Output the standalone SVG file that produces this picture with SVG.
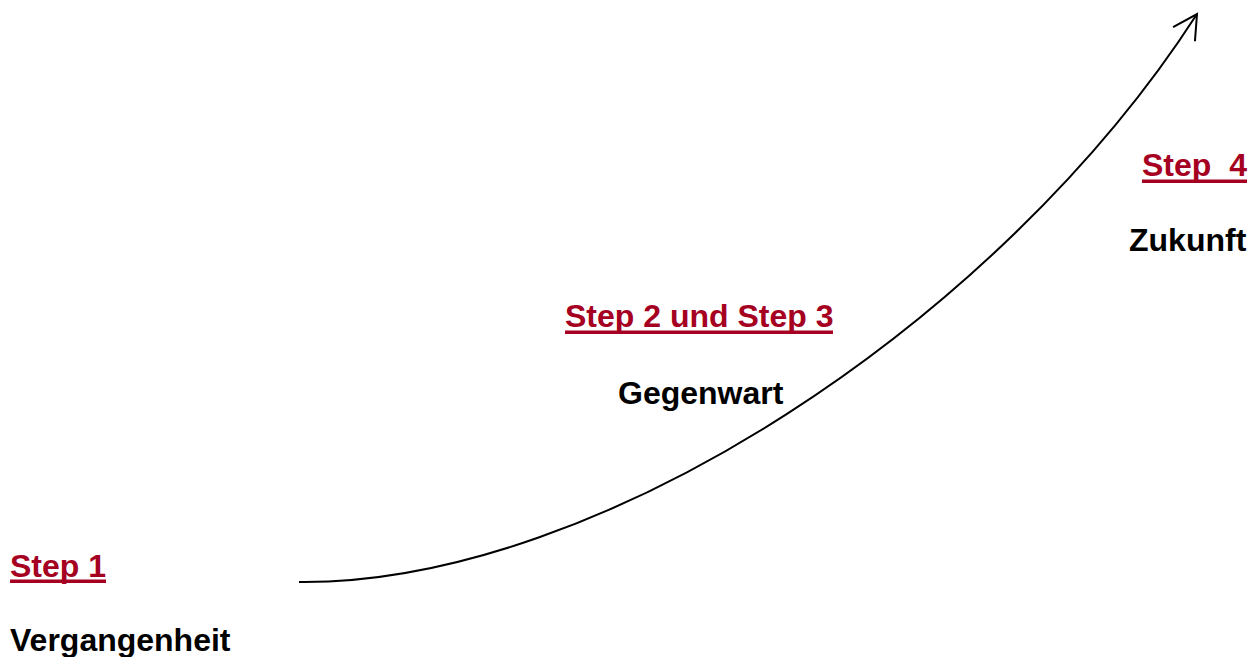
<svg xmlns="http://www.w3.org/2000/svg" width="1253" height="657" viewBox="0 0 1253 657">
  <style>
    text { font-family: "Liberation Sans", Arial, sans-serif; font-weight: bold; font-size: 32px; }
    .step { fill: #A50021; }
    .uline { fill: #A50021; }
    .era { fill: #000000; }
    .curve { fill: none; stroke: #000000; stroke-width: 2; }
  </style>
  <defs>
    <marker id="open-arrow" markerWidth="30" markerHeight="30" refX="25" refY="14" orient="auto" markerUnits="userSpaceOnUse" viewBox="0 0 30 28">
      <path d="M1,1 L25,14 L1,27" fill="none" stroke="#000000" stroke-width="2"/>
    </marker>
  </defs>
  <rect width="1253" height="657" fill="#ffffff"/>

  <g id="connectors">
    <path class="curve" d="M299,582 C600,585 1000,320 1197,14" marker-end="url(#open-arrow)"/>
  </g>

  <g id="step1">
    <text class="step" x="10" y="577">Step 1</text>
    <rect class="uline" x="10" y="579.5" width="96" height="3.5"/>
    <text class="era" x="10" y="651">Vergangenheit</text>
  </g>

  <g id="step2-3">
    <text class="step" x="565" y="327">Step 2 und Step 3</text>
    <rect class="uline" x="565" y="330.5" width="268" height="3.5"/>
    <text class="era" x="618" y="404">Gegenwart</text>
  </g>

  <g id="step4">
    <text class="step" x="1142" y="176" xml:space="preserve">Step  4</text>
    <rect class="uline" x="1142" y="179.5" width="105" height="3.5"/>
    <text class="era" x="1129" y="251">Zukunft</text>
  </g>
</svg>
